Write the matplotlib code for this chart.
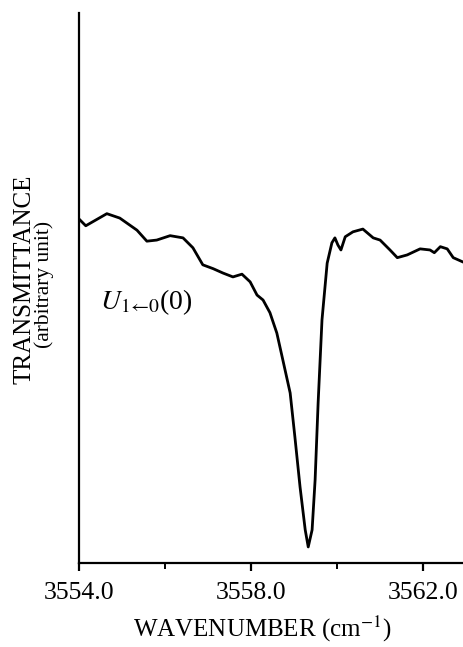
import numpy as np
import matplotlib.pyplot as plt
from matplotlib.ticker import FixedLocator

plt.rcParams['font.family'] = ['Liberation Serif', 'DejaVu Serif']
plt.rcParams['mathtext.fontset'] = 'stix'

# Spectrum (wavenumber in cm-1, transmittance in arbitrary units).
wavenumber = [3554.02, 3554.16, 3554.65, 3554.95, 3555.35, 3555.58, 3555.81, 3556.12,
              3556.42, 3556.65, 3556.88, 3557.12, 3557.35, 3557.58, 3557.79, 3557.98,
              3558.14, 3558.28, 3558.44, 3558.60, 3558.74, 3558.91, 3559.02, 3559.14,
              3559.26, 3559.33, 3559.42, 3559.49, 3559.56, 3559.65, 3559.77, 3559.88,
              3559.95, 3560.02, 3560.09, 3560.19, 3560.37, 3560.60, 3560.84, 3561.00,
              3561.23, 3561.40, 3561.63, 3561.93, 3562.16, 3562.26, 3562.40, 3562.56,
              3562.70, 3562.93]
transmittance = [0.624, 0.613, 0.635, 0.627, 0.605, 0.585, 0.587, 0.595,
                 0.591, 0.573, 0.542, 0.535, 0.527, 0.520, 0.525, 0.511,
                 0.487, 0.478, 0.455, 0.418, 0.369, 0.309, 0.229, 0.138,
                 0.060, 0.029, 0.060, 0.151, 0.291, 0.442, 0.545, 0.582,
                 0.591, 0.578, 0.569, 0.593, 0.602, 0.607, 0.591, 0.587,
                 0.569, 0.555, 0.560, 0.571, 0.569, 0.564, 0.575, 0.571,
                 0.555, 0.547]

major_ticks = [3554.0, 3558.0, 3562.0]
minor_ticks = [3556.0, 3560.0]

fig = plt.figure(figsize=(4.64, 6.47), dpi=100)
ax = fig.add_axes([0.170, 0.130, 0.830, 0.850])

ax.plot(wavenumber, transmittance, color='black', lw=2.0)

ax.set_xlim(3554.0, 3562.95)
ax.set_ylim(0, 1)

ax.spines['top'].set_visible(False)
ax.spines['right'].set_visible(False)
ax.spines['left'].set_linewidth(1.6)
ax.spines['bottom'].set_linewidth(1.6)

ax.xaxis.set_major_locator(FixedLocator(major_ticks))
ax.xaxis.set_minor_locator(FixedLocator(minor_ticks))
ax.xaxis.set_major_formatter(lambda v, p: f'{v:.1f}')
ax.tick_params(axis='x', which='major', direction='out', length=6, width=1.6,
               labelsize=18.5, pad=8)
ax.tick_params(axis='x', which='minor', direction='out', length=4, width=1.4)
ax.set_yticks([])

ax.set_xlabel(r'WAVENUMBER (cm$^{-1}$)', fontsize=18, labelpad=7, x=0.476)

fig.text(0.052, 0.569, 'TRANSMITTANCE', rotation=90, fontsize=18,
         ha='center', va='center')
fig.text(0.095, 0.560, '(arbitrary unit)', rotation=90, fontsize=15.5,
         ha='center', va='center')

ax.text(3554.5, 0.475, r'$U_{1\!\leftarrow\!0}$(0)', fontsize=20, ha='left', va='center')

fig.savefig('out.png', dpi=100)
